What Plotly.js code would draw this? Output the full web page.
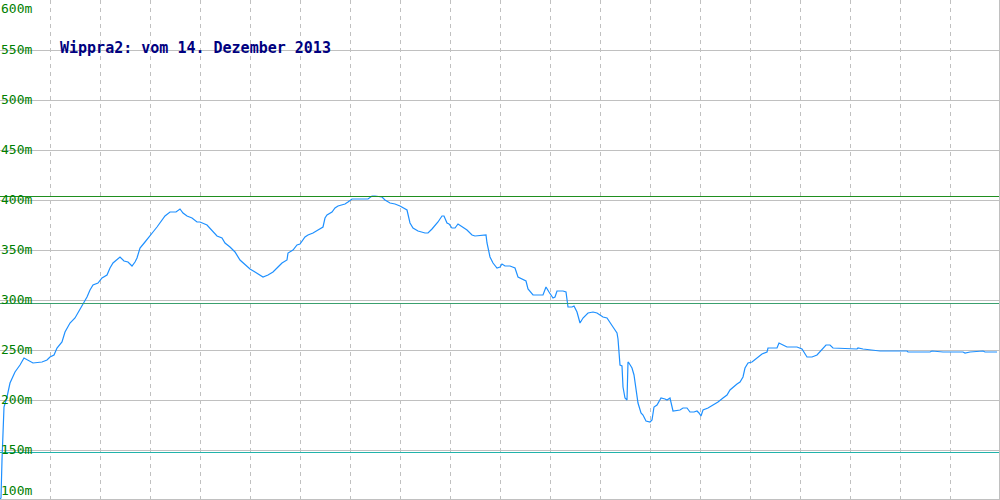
<!DOCTYPE html>
<html>
<head>
<meta charset="utf-8">
<script src="https://cdn.plot.ly/plotly-3.0.1.min.js"></script>
<style>
html,body{margin:0;padding:0;background:#fff;}
#chart{width:1000px;height:500px;}
#chart .shapelayer path{shape-rendering:crispEdges;}
</style>
</head>
<body>
<div id="chart"></div>
<script>
// Track position (sample index) and altitude in metres
const track = [0,1,2,3,4,7,10,15,20,24,28,33,42,47,50,54,57,62,65,70,75,78,83,87,90,93,98,102,107,110,113,117,120,124,128,132,135,137,140,145,150,153,157,162,165,170,176,180,183,187,192,197,200,207,213,217,222,225,230,235,240,245,250,255,260,263,268,273,278,282,287,288,293,297,300,305,308,313,318,323,325,327,332,335,338,345,348,352,368,372,375,382,385,390,395,400,407,410,413,418,425,428,432,435,438,442,444,447,449,452,455,458,463,467,472,475,486,487,490,493,497,500,502,505,510,515,518,522,526,528,533,543,546,549,553,555,557,563,566,568,572,574,577,580,583,588,593,597,603,607,610,613,617,618,620,622,623,625,627,628,629,632,634,636,638,641,643,646,650,652,654,657,661,665,667,670,672,673,680,683,687,690,694,697,699,701,703,708,713,718,723,727,730,733,737,740,743,745,748,752,757,762,767,768,777,779,783,787,797,802,807,812,817,822,826,830,833,857,858,863,870,875,880,907,908,930,932,943,963,965,970,983,985,997];
const altitude = [101,102,140,180,193,203,217,228,235,242,240,237,238,240,243,245,252,258,268,277,282,287,295,303,310,315,317,322,325,332,337,340,343,339,338,334,338,342,352,358,365,368,373,380,384,388,388,391,387,384,382,378,378,375,368,364,362,357,353,348,340,335,331,328,325,323,325,328,333,337,340,347,350,355,356,363,365,367,370,373,382,385,388,392,394,396,398,401,401,404,404,403,400,397,396,394,390,377,372,369,367,367,371,374,378,384,384,377,376,372,372,376,373,370,365,364,365,357,343,337,332,333,336,334,334,332,323,321,319,311,305,305,313,308,302,303,309,309,308,293,293,294,288,277,282,287,288,287,283,282,278,273,267,261,235,234,213,202,200,238,237,232,225,210,197,187,185,179,178,180,193,195,202,201,200,202,192,189,190,192,192,188,188,189,187,184,190,192,195,198,202,205,210,213,216,218,223,232,237,238,242,246,248,252,252,257,255,253,253,251,243,243,245,251,255,255,252,251,252,251,250,250,249,249,248,248,249,248,248,247,248,249,248,248];

// Reference levels (m)
const levels = [404, 297, 148];
const levelColors = ['#1f8f1f', '#3aa06e', '#20b2aa'];

// Axis ticks
const yTicks = [600, 550, 500, 450, 400, 350, 300, 250, 200, 150, 100];
const yTickLabels = ['600m','550m','500m','450m','400m','350m','300m','250m','200m','150m','100m'];
const xTickStep = 50;

const titleText = 'Wippra2: vom 14. Dezember 2013';

const trace = {
  x: track, y: altitude, type: 'scatter', mode: 'lines',
  line: {color: '#1e90ff', width: 1.2}, hoverinfo: 'skip', showlegend: false
};

const shapes = levels.map((v, i) => ({
  type: 'line', xref: 'paper', x0: 0, x1: 1, yref: 'y', y0: v, y1: v,
  line: {color: levelColors[i], width: 1}, layer: 'above'
}));

const annotations = yTicks.map((v, i) => {
  const last = i === yTicks.length - 1;
  return {
    xref: 'paper', x: 0, xanchor: 'left',
    yref: last ? 'paper' : 'y', y: last ? 0 : v,
    yanchor: i === 0 ? 'top' : (last ? 'bottom' : 'middle'),
    text: yTickLabels[i], showarrow: false,
    font: {family: 'DejaVu Sans Mono', size: 13, color: '#008000'},
    xshift: -1, yshift: i === 0 ? 1 : (last ? -1 : 1)
  };
});

const layout = {
  width: 1000, height: 500,
  margin: {l: 0, r: 1, t: 0, b: 1, pad: 0},
  paper_bgcolor: '#ffffff', plot_bgcolor: '#ffffff',
  title: {
    text: titleText, xref: 'container', yref: 'container', x: 0.06, xanchor: 'left',
    y: 1 - 48/500, yanchor: 'middle',
    font: {family: 'DejaVu Sans Mono', size: 15, color: '#000080', weight: 'bold'}
  },
  xaxis: {
    range: [0, 999], tick0: 0, dtick: xTickStep, showticklabels: false, ticks: '',
    showgrid: true, gridcolor: '#c0c0c0', gridwidth: 1, griddash: '4px,4px',
    zeroline: false, showline: true, mirror: true, linecolor: '#c0c0c0', linewidth: 1,
    fixedrange: true
  },
  yaxis: {
    range: [101, 600], tickvals: yTicks, showticklabels: false, ticks: '',
    showgrid: true, gridcolor: '#c0c0c0', gridwidth: 1,
    zeroline: false, showline: true, mirror: true, linecolor: '#c0c0c0', linewidth: 1,
    fixedrange: true
  },
  shapes: shapes,
  annotations: annotations
};

Plotly.newPlot('chart', [trace], layout, {staticPlot: true, displayModeBar: false});
</script>
</body>
</html>
